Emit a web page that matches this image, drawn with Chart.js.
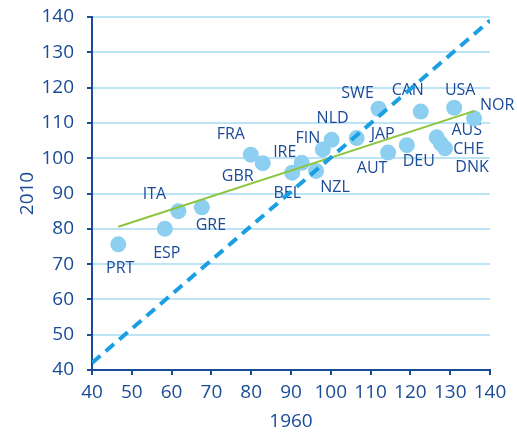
<!DOCTYPE html>
<html>
<head>
<meta charset="utf-8">
<script src="https://cdn.jsdelivr.net/npm/chart.js@4.4.1/dist/chart.umd.min.js"></script>
<style>
body{
    margin:0;
    background:#ffffff;
}
canvas{
    display:block;
}
</style>
</head>
<body>
<canvas id="scatterChart" width="517" height="432"></canvas>
<script>

// data
let countries = ["PRT","ESP","ITA","GRE","FRA","GBR","IRE","BEL","FIN","NLD","NZL",
"JAP","AUT","SWE","CAN","DEU","USA","NOR","AUS","CHE","DNK"];

let values1960 = [46.6,58.3,61.7,67.6,79.9,82.9,92.7,90.3,98.0,100.2,96.3,
106.5,114.4,112.0,122.6,119.1,131.0,136.0,126.6,127.6,128.7];

let values2010 = [75.6,80.0,85.0,86.1,101.0,98.6,98.7,95.9,102.5,105.2,96.4,
105.7,101.6,114.0,113.2,103.7,114.3,111.3,105.9,104.2,102.8];

let trendX = [46.6,136.1];
let trendY = [80.6,113.4];

let diagonalX = [40,140];
let diagonalY = [42,139];

let axisTicks = [40,50,60,70,80,90,100,110,120,130,140];

// label offsets from the dot centre, in pixels
let labelOffsets = [
[2,24],[2,25],[-24,-17],[9,18],[-20,-20],[-25,13],[-17,-10],[-5,21],
[-15,-11],[1,-21],[19,17],[26,-4],[-16,16],[-21,-15],[-13,-21],[12,16],
[6,-17],[23,-13],[30,-7],[28,6],[27,19]
];

let darkBlue = "#1a4b98";
let fontName = "'Open Sans', sans-serif";

function toPoints(xs, ys){

    let points = [];

    xs.forEach((x, i) => {
        points.push({x:x, y:ys[i]});
    });

    return points;
}

let countryLabels = {

    id:"countryLabels",

    beforeDatasetsDraw(chart){

        let ctx = chart.ctx;
        let meta = chart.getDatasetMeta(2);

        ctx.save();
        ctx.font = "16px " + fontName;
        ctx.fillStyle = darkBlue;
        ctx.textAlign = "center";
        ctx.textBaseline = "middle";

        meta.data.forEach((dot, i) => {
            ctx.fillText(
            countries[i],
            dot.x + labelOffsets[i][0],
            dot.y + labelOffsets[i][1]
            );
        });

        ctx.restore();
    }
};

// pin the axis boxes so the plot area lands where the original has it
function fixSize(size){
    return function(scale){
        if(scale.isHorizontal()){
            scale.height = size;
            scale.paddingLeft = 0;
            scale.paddingRight = 0;
        } else {
            scale.width = size;
            scale.paddingTop = 0;
            scale.paddingBottom = 0;
        }
    };
}

new Chart(

document.getElementById("scatterChart"),

{
    type:"scatter",

    data:{

        datasets:[

        {
            data:toPoints(diagonalX, diagonalY),
            showLine:true,
            borderColor:"#1a9fe3",
            borderWidth:4,
            borderDash:[11,7],
            pointRadius:0,
            order:0
        },

        {
            data:toPoints(trendX, trendY),
            showLine:true,
            borderColor:"#8cc63e",
            borderWidth:2,
            pointRadius:0,
            order:1
        },

        {
            data:toPoints(values1960, values2010),
            backgroundColor:"#8dcff0",
            borderColor:"#8dcff0",
            borderWidth:0,
            pointRadius:8,
            pointHoverRadius:8,
            order:2
        }

        ]
    },

    options:{

        responsive:false,
        animation:false,
        events:[],

        layout:{
            padding:{top:17, right:27, left:0, bottom:0}
        },

        plugins:{
            legend:{display:false},
            tooltip:{enabled:false}
        },

        scales:{

            x:{
                type:"linear",
                min:40,
                max:140,
                afterFit:fixSize(62),
                afterBuildTicks(scale){
                    scale.ticks = axisTicks.map(v => ({value:v}));
                },
                grid:{
                    drawOnChartArea:false,
                    tickColor:darkBlue,
                    tickLength:5,
                    lineWidth:2
                },
                border:{
                    color:darkBlue,
                    width:2
                },
                ticks:{
                    color:darkBlue,
                    font:{family:fontName, size:19},
                    padding:6,
                    autoSkip:false,
                    maxRotation:0
                },
                title:{
                    display:true,
                    text:"1960",
                    color:darkBlue,
                    font:{family:fontName, size:19, lineHeight:1},
                    padding:{top:0, bottom:1}
                }
            },

            y:{
                type:"linear",
                min:40,
                max:140,
                afterFit:fixSize(92),
                afterBuildTicks(scale){
                    scale.ticks = axisTicks.map(v => ({value:v}));
                },
                grid:{
                    color:"#bde3f6",
                    tickColor:darkBlue,
                    tickLength:5,
                    lineWidth:2
                },
                border:{
                    color:darkBlue,
                    width:2
                },
                ticks:{
                    color:darkBlue,
                    font:{family:fontName, size:19},
                    padding:13,
                    autoSkip:false
                },
                title:{
                    display:true,
                    text:"2010",
                    color:darkBlue,
                    font:{family:fontName, size:19, lineHeight:1},
                    padding:{top:18, bottom:0}
                }
            }
        }
    },

    plugins:[countryLabels]
});

</script>
</body>
</html>
